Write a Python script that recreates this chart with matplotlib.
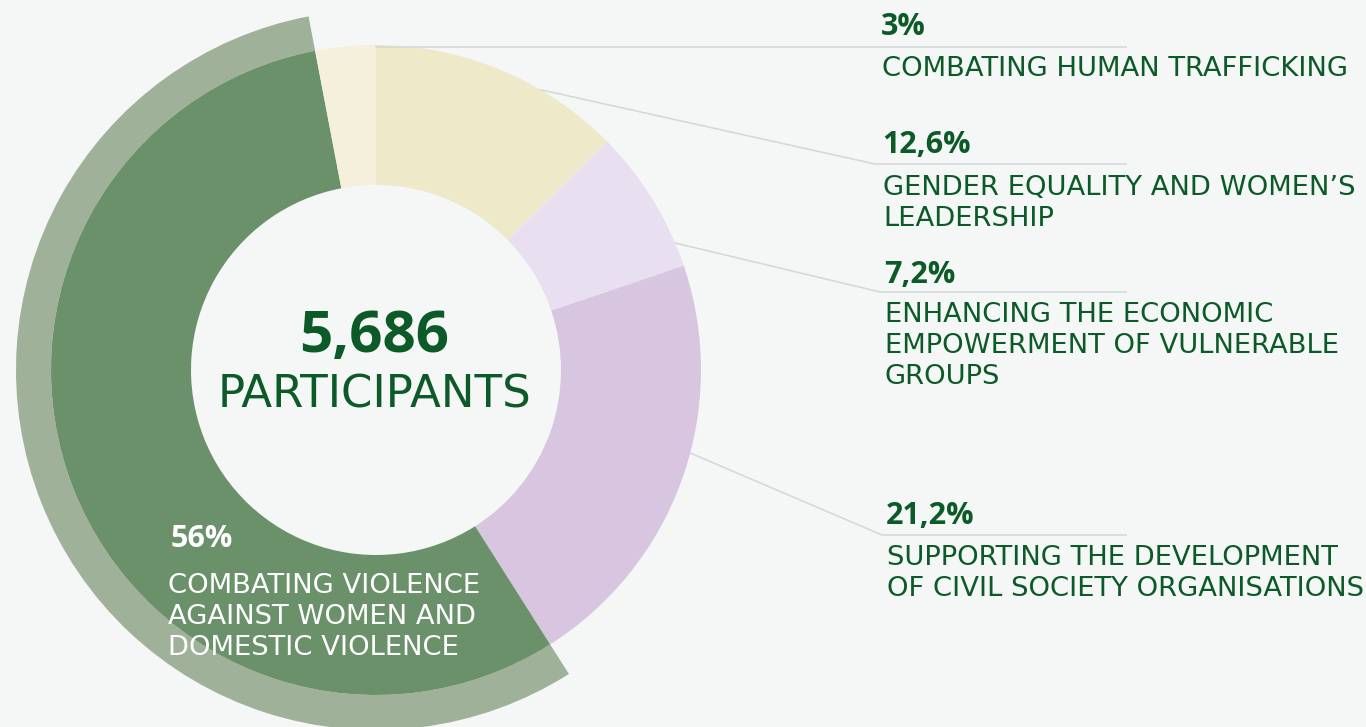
"""
plot.py - participants by programme area (donut chart).
"""

import numpy as np
import matplotlib
matplotlib.use("Agg")
import matplotlib.pyplot as plt

# data, clockwise from the top
areas = [
    ["GENDER EQUALITY AND WOMEN\u2019S", "LEADERSHIP"],
    ["ENHANCING THE ECONOMIC", "EMPOWERMENT OF VULNERABLE", "GROUPS"],
    ["SUPPORTING THE DEVELOPMENT", "OF CIVIL SOCIETY ORGANISATIONS"],
    ["COMBATING VIOLENCE", "AGAINST WOMEN AND", "DOMESTIC VIOLENCE"],
    ["COMBATING HUMAN TRAFFICKING"],
]
shares = [12.6, 7.2, 21.2, 56, 3]
total_participants = "5,686"
total_label = "PARTICIPANTS"

colors = ["#eee9c9", "#e8e0f0", "#d8c6e1", "#6b916b", "#f5f0dc"]
highlight = 3          # index of the slice with the outer ring
ring_color = "#a0b19a"
bg = "#f5f7f6"
txt = "#0c5a28"
line_col = "#d3d7d7"

W, H = 1366, 727
cx, cy = 376, 370
r_out, r_in, r_ring = 325, 185, 360

LABEL_FONT = "DejaVu Sans"
NUM_FONT = "Open Sans"


def Y(y):
    return H - y


def pct(v):
    return f"{v:g}".replace(".", ",") + "%"


fig = plt.figure(figsize=(W / 100, H / 100), dpi=100, facecolor=bg)
ax = fig.add_axes([0, 0, 1, 1])
ax.set_facecolor(bg)

# outer ring for the biggest slice
ring_colors = [ring_color if i == highlight else "none" for i in range(len(shares))]
ax.pie(shares, radius=r_ring, center=(cx, Y(cy)), startangle=90, counterclock=False,
       colors=ring_colors, wedgeprops=dict(width=r_ring - r_out, linewidth=0))
# main donut
ax.pie(shares, radius=r_out, center=(cx, Y(cy)), startangle=90, counterclock=False,
       colors=colors, wedgeprops=dict(width=r_out - r_in, linewidth=0))

ax.set_xlim(0, W)
ax.set_ylim(0, H)
ax.set_aspect("auto")
ax.axis("off")

# centre text
ax.text(374, Y(352), total_participants, ha="center", va="baseline",
        fontsize=42, fontweight="bold", family=NUM_FONT, color=txt)
ax.text(374, Y(407), total_label, ha="center", va="baseline",
        fontsize=32.5, family=LABEL_FONT, color=txt)

# right-hand labels: (anchor angle clockwise from top, elbow x, line y,
#                     pct baseline, first label baseline, label x)
right = {
    4: (0.0, 376, 47, 35, 76, 881),
    0: (30.4, 875, 164, 153, 195, 882),
    1: (67.0, 880, 292, 283, 322, 884),
    2: (104.8, 882, 535, 524, 565, 886),
}
line_gap = 31
for i, (ang, ex, ly, pb, lb, tx) in right.items():
    a = np.deg2rad(ang)
    sx, sy = cx + r_out * np.sin(a), cy - r_out * np.cos(a)
    ax.plot([sx, ex, 1127], [Y(sy), Y(ly), Y(ly)], color=line_col, lw=1.1,
            solid_capstyle="butt", zorder=1)
    ax.text(tx, Y(pb), pct(shares[i]), ha="left", va="baseline",
            fontsize=22, fontweight="bold", family=NUM_FONT, color=txt)
    for k, line in enumerate(areas[i]):
        ax.text(tx + 1, Y(lb + k * line_gap), line, ha="left", va="baseline",
                fontsize=19.7, family=LABEL_FONT, color=txt)

# label inside the big slice
ax.text(171, Y(547), pct(shares[highlight]), ha="left", va="baseline",
        fontsize=22, fontweight="bold", family=NUM_FONT, color="white")
for k, line in enumerate(areas[highlight]):
    ax.text(168, Y(593 + k * line_gap), line, ha="left", va="baseline",
            fontsize=19.7, family=LABEL_FONT, color="white")

fig.savefig("out.png", dpi=100, facecolor=bg)
plt.close(fig)
